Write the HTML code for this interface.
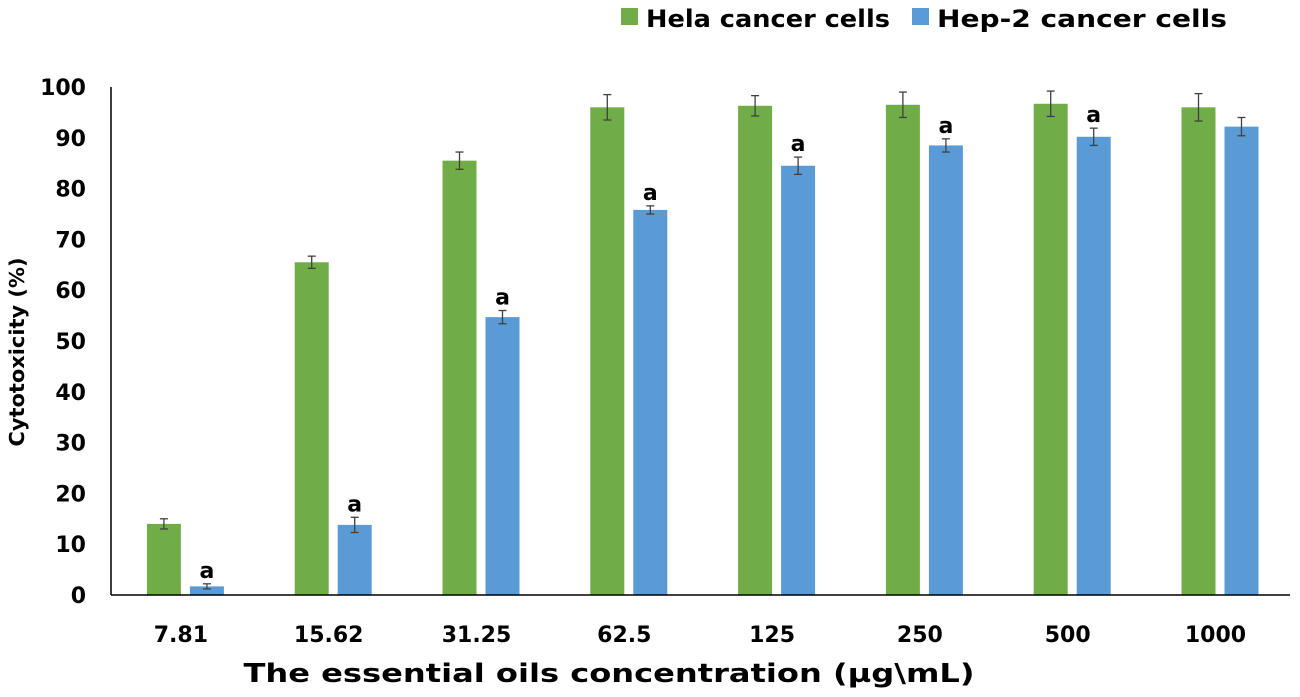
<!DOCTYPE html>
<html><head><meta charset="utf-8"><style>
body{margin:0;background:#fff;width:1300px;height:693px;overflow:hidden;font-family:"DejaVu Sans",sans-serif}
</style></head><body>
<svg id="chart" width="1300" height="693" xmlns="http://www.w3.org/2000/svg" font-family="DejaVu Sans, Liberation Sans, sans-serif" font-weight="bold">
<g>
<rect x="621" y="8" width="17" height="17" fill="#70ad47"/>
<text x="646" y="27" font-size="24" textLength="244" lengthAdjust="spacingAndGlyphs" fill="#000">Hela cancer cells</text>
<rect x="912" y="8" width="17" height="17" fill="#5b9bd5"/>
<text x="937" y="27" font-size="24" textLength="290" lengthAdjust="spacingAndGlyphs" fill="#000">Hep-2 cancer cells</text>
</g>
<text transform="translate(24,352) rotate(-90)" text-anchor="middle" font-size="20" textLength="189" lengthAdjust="spacingAndGlyphs">Cytotoxicity (%)</text>
<text x="609" y="682" text-anchor="middle" font-size="26" textLength="731" lengthAdjust="spacingAndGlyphs">The essential oils concentration (µg\mL)</text>
<g id="yticks"></g><g id="bars"></g><g id="xticks"></g>
<line x1="111" y1="87" x2="111" y2="595" stroke="#000" stroke-width="1.5"/>
<line x1="111" y1="595" x2="1290" y2="595" stroke="#000" stroke-width="1.5"/>
</svg>
<script>
const categories=["7.81","15.62","31.25","62.5","125","250","500","1000"];
const hela=[14,65.5,85.5,96,96.3,96.5,96.7,96];
const helaErr=[1,1.2,1.7,2.5,2,2.5,2.5,2.7];
const hep2=[1.7,13.8,54.7,75.8,84.5,88.5,90.2,92.2];
const hep2Err=[0.5,1.5,1.3,0.8,1.7,1.3,1.7,1.8];
const hep2Mark=["a","a","a","a","a","a","a",""];
const yTicks=[0,10,20,30,40,50,60,70,80,90,100];
const NS="http://www.w3.org/2000/svg";
const y0=595,y100=87,left=111,catW=147.8;
const Y=v=>y0-(v/100)*(y0-y100);
const X=i=>left+catW*i+catW/2;
function mk(t,a,p){const e=document.createElementNS(NS,t);for(const k in a)e.setAttribute(k,a[k]);p.appendChild(e);return e;}
const yt=document.getElementById('yticks');
yTicks.forEach(v=>{const t=mk('text',{x:86,y:Y(v)+8,'text-anchor':'end','font-size':22},yt);


t.textContent=v;});
const xt=document.getElementById('xticks');
categories.forEach((c,i)=>{const t=mk('text',{x:X(i)-4,y:642,'text-anchor':'middle','font-size':22},xt);


t.textContent=c;});
const bg=document.getElementById('bars');
function err(cx,v,e){const g=mk('g',{stroke:'#404040','stroke-width':1.3},bg);


mk('line',{x1:cx,x2:cx,y1:Y(v+e),y2:Y(v-e)},g);
mk('line',{x1:cx-4,x2:cx+4,y1:Y(v+e),y2:Y(v+e)},g);
mk('line',{x1:cx-4,x2:cx+4,y1:Y(v-e),y2:Y(v-e)},g);}
categories.forEach((c,i)=>{const cx=X(i);
const r1=mk('rect',{x:cx-38,y:Y(hela[i]),width:34,height:y0-Y(hela[i]),fill:'#70ad47'},bg);


err(cx-21,hela[i],helaErr[i]);
const r2=mk('rect',{x:cx+5,y:Y(hep2[i]),width:34,height:y0-Y(hep2[i]),fill:'#5b9bd5'},bg);


err(cx+22,hep2[i],hep2Err[i]);
if(hep2Mark[i]){const t=mk('text',{x:cx+22,y:Y(hep2[i]+hep2Err[i])-6,'text-anchor':'middle','font-size':22},bg);


t.textContent=hep2Mark[i];}
});
</script>
</body></html>
